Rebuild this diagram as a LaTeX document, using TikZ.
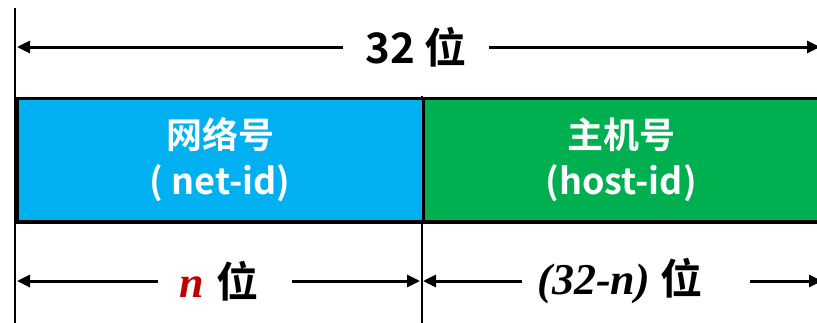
\documentclass[tikz,border=0pt]{standalone}
\usepackage{fontspec}
\setmainfont{Liberation Serif}
\newfontfamily\cjk{Noto Sans CJK SC}[BoldFont={Noto Sans CJK SC Bold}]
\usetikzlibrary{arrows.meta}
\definecolor{netblue}{HTML}{00B0F0}
\definecolor{hostgreen}{HTML}{00B050}
\definecolor{nred}{HTML}{C00000}
\tikzset{
  box/.style={draw=black, line width=3.5pt, anchor=north west, text=white,
    align=center, inner sep=0pt,
    font=\cjk\bfseries\fontsize{36}{46}\selectfont},
  arr/.style={line width=3pt, -{Triangle[length=13pt,width=12pt]}},
  guide/.style={line width=2pt, black},
  lab/.style={inner ysep=0pt, font=\cjk\bfseries\fontsize{42}{44}\selectfont},
}
\begin{document}
\begin{tikzpicture}[x=1pt,y=-1pt]
\useasboundingbox (0,0) rectangle (817,322);
\clip (0,0) rectangle (817,322);
% guide lines
\coordinate (g1a) at (15,8);
\coordinate (g1b) at (15,330);
\coordinate (g2a) at (421.5,96);
\coordinate (g2b) at (421.5,330);
\draw[guide] (g1a) -- (g1b);
\draw[guide] (g2a) -- (g2b);
% boxes
\node[box, fill=netblue, minimum width=406.5pt, minimum height=123.5pt] (net) at (15,96.5) {网络号\\( net-id)};
\node[box, fill=hostgreen, minimum width=420pt, minimum height=123.5pt, anchor=north west] (host) at (421.5,96.5) {\hspace*{-24pt}主机号\\\hspace*{-24pt}(host-id)};
% top dimension
\node[lab, inner xsep=22pt] (t32) at (416,47) {32 位};
\coordinate (tL) at (17,47);
\coordinate (tR) at (820,47);
\draw[arr] (t32.west) -- (tL);
\draw[arr] (t32.east) -- (tR);
% bottom left dimension
\node[lab, inner xsep=0pt] (bn) at (219,281) {{\fontsize{44}{44}\selectfont\rmfamily\bfseries\itshape\color{nred}n}\hspace{0.3em}位};
\coordinate (bL1) at (17,281);
\coordinate (bR1) at (420,281);
\draw[arr, shorten <=21pt] (bn.west) -- (bL1);
\draw[arr, shorten <=33pt] (bn.east) -- (bR1);
% bottom right dimension
\node[lab, inner xsep=0pt] (bh) at (620,281) {{\fontsize{44}{44}\selectfont\rmfamily\bfseries\itshape (32-n)}\hspace{0.25em}位};
\coordinate (bL2) at (423,281);
\coordinate (bR2) at (822,281);
\draw[arr, shorten <=15pt] (bh.west) -- (bL2);
\draw[arr, shorten <=47pt] (bh.east) -- (bR2);
\end{tikzpicture}
\end{document}
